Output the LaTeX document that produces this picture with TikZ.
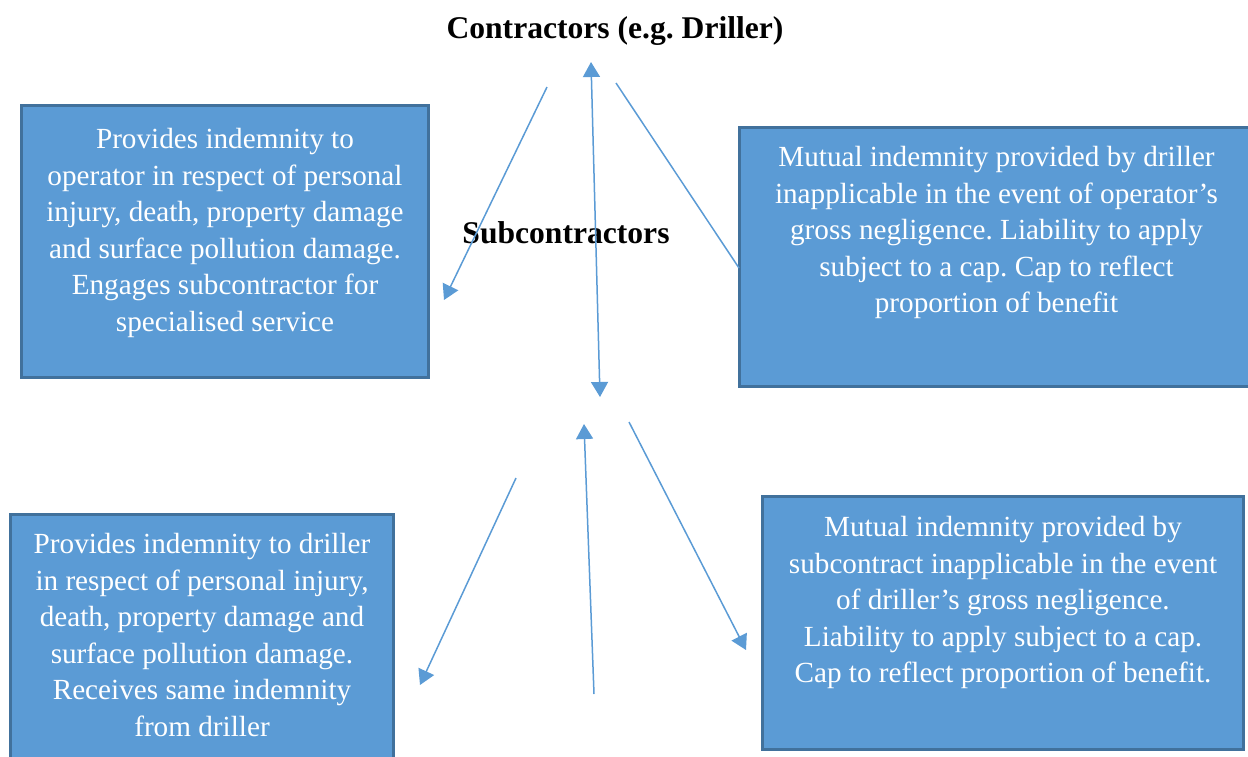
\documentclass[tikz,border=0pt]{standalone}
\usepackage{fontspec}
\setmainfont{Liberation Serif}
\usetikzlibrary{arrows.meta}
\definecolor{boxfill}{HTML}{5B9BD5}
\definecolor{boxedge}{HTML}{41719C}
\definecolor{linkcol}{HTML}{5B9BD5}
\frenchspacing
\newcommand{\indem}[4]{\parbox[c][#2][t]{#1}{\centering\rule{0pt}{#3}#4}}
\tikzset{
  indembox/.style={draw=boxedge, fill=boxfill, line width=1.5pt, text=white,
    inner sep=0pt, anchor=north west, font={\fontsize{14.6}{18.3}\selectfont}},
  party/.style={anchor=base, font={\fontsize{15.8}{18}\selectfont\bfseries}},
  link/.style={draw=linkcol, line width=0.75pt}
}
\begin{document}
\begin{tikzpicture}[x=0.5pt, y=-0.5pt, >={Triangle[length=7.5pt,width=8.5pt]}]
\useasboundingbox (0,0) rectangle (1248,756);

\node[party] (contr) at (615,38) {Contractors (e.g. Driller)};
\node[party] (subc) at (566,243) {Subcontractors};

\node[indembox] (opbox) at (20,104) {\indem{203.5pt}{136pt}{21.5pt}{Provides indemnity to\\
  operator in respect of personal\\ injury, death, property damage\\
  and surface pollution damage.\\ Engages subcontractor for\\ specialised service}};
\node[indembox] (drbox) at (738,126) {\indem{257pt}{129.5pt}{19.5pt}{Mutual indemnity provided by driller\\
  inapplicable in the event of operator’s\\ gross negligence. Liability to apply\\
  subject to a cap. Cap to reflect\\ proportion of benefit}};
\node[indembox] (scbox) at (9,513) {\indem{191.5pt}{131pt}{19.5pt}{Provides indemnity to driller\\
  in respect of personal injury,\\ death, property damage and\\
  surface pollution damage.\\ Receives same indemnity\\ from driller}};
\node[indembox] (mubox) at (761,495) {\indem{240.5pt}{126.5pt}{20pt}{Mutual indemnity provided by\\
  subcontract inapplicable in the event\\ of driller’s gross negligence.\\
  Liability to apply subject to a cap.\\ Cap to reflect proportion of benefit.}};

% upper links
\coordinate (ua1) at (547,87);  \coordinate (ua2) at (444,300);
\coordinate (ub1) at (591,62);  \coordinate (ub2) at (600,397);
\coordinate (uc1) at (616,83);  \coordinate (uc2) at (739,268);
\draw[link, ->] (ua1)--(ua2);
\draw[link, <->] (ub1)--(ub2);
\draw[link] (uc1)--(uc2);

% lower links
\coordinate (la1) at (516,478); \coordinate (la2) at (420,685);
\coordinate (lb1) at (594,694); \coordinate (lb2) at (584,424);
\coordinate (lc1) at (629,422); \coordinate (lc2) at (746,650);
\draw[link, ->] (la1)--(la2);
\draw[link, ->] (lb1)--(lb2);
\draw[link, ->] (lc1)--(lc2);
\end{tikzpicture}
\end{document}
